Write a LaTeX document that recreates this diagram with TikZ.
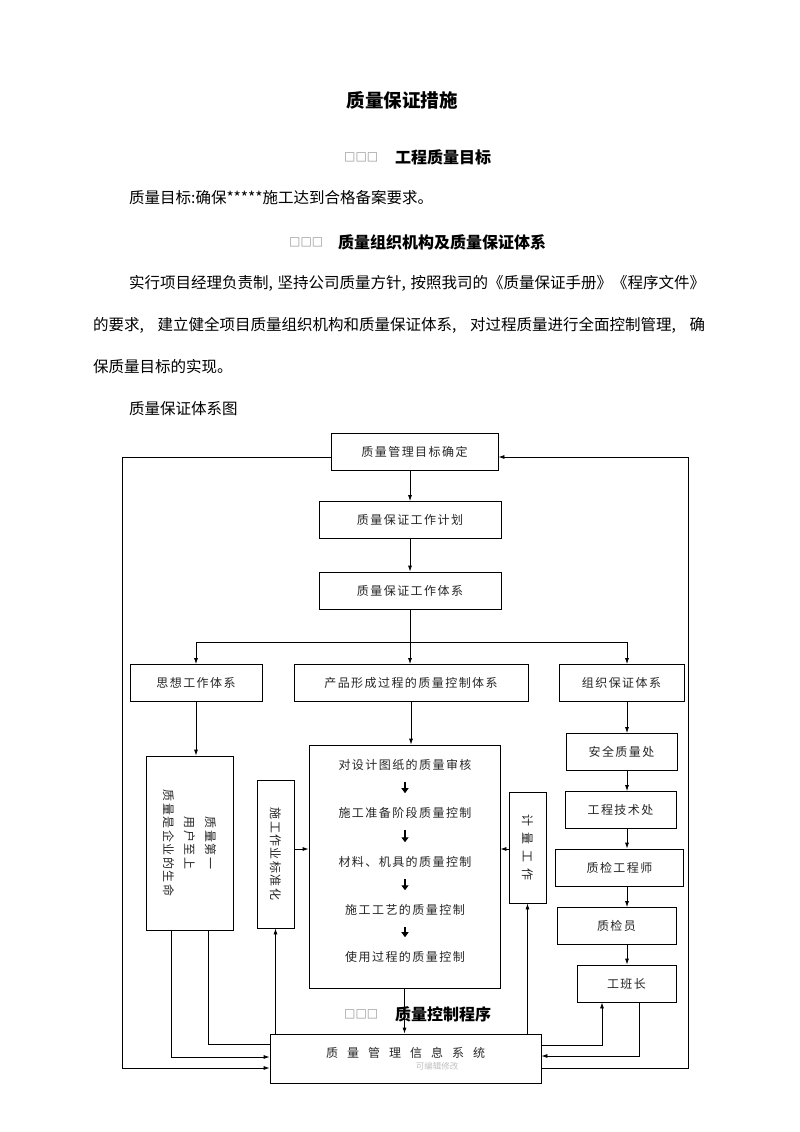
\documentclass[tikz,border=0pt]{standalone}
\usepackage{fontspec}
\usetikzlibrary{arrows.meta,positioning}
\newfontfamily\cjk{Noto Sans CJK SC}
\newfontfamily\cjkbox[LetterSpace=12]{Noto Sans CJK SC}
\newfontfamily\symfont{DejaVu Sans}

\tikzset{
  box/.style={draw, line width=0.8pt, inner sep=0pt, text=black!85,
    font=\cjkbox\fontsize{12}{21}\selectfont},
  stepline/.style={inner sep=0pt, text=black!85, font=\cjkbox\fontsize{12}{14}\selectfont},
  arr/.style={line width=0.8pt, -{Latex[length=6pt,width=4pt]}},
  link/.style={line width=0.8pt},
  tick/.style={line width=1.7pt, -{Triangle[length=5pt,width=7pt]}, shorten <=11pt, shorten >=14pt},
  body/.style={anchor=west, inner sep=0pt, font=\cjk\fontsize{15.5}{18}\selectfont},
  head/.style={anchor=west, inner sep=0pt, font=\cjk\bfseries\fontsize{16}{18}\selectfont},
  tofu/.style={anchor=west, inner sep=0pt, text=black!40, font=\symfont\fontsize{12}{14}\selectfont}
}

\begin{document}
\begin{tikzpicture}[x=1pt, y=-1pt]
  \fill[white] (0,0) rectangle (800,1132);
  \useasboundingbox (0,0) rectangle (800,1132);

  % page text
  \node[inner sep=0pt, font=\cjk\bfseries\fontsize{18.5}{20}\selectfont] (title) at (402,100) {质量保证措施};
  \node[tofu] (sq1) at (344,157) {□□□};
  \node[head] (head1) at (395,157) {工程质量目标};
  \node[body] (aim) at (129,198) {质量目标:确保*****施工达到合格备案要求。};
  \node[tofu] (sq2) at (289,242) {□□□};
  \node[head] (head2) at (338,242) {质量组织机构及质量保证体系};
  \node[body] (para1) at (129,283) {\makebox[576pt][s]{实行项目经理负责制, 坚持公司质量方针, 按照我司的《质量保证手册》《程序文件》}};
  \node[body] (para2) at (93,325) {\makebox[612pt][s]{的要求, 建立健全项目质量组织机构和质量保证体系, 对过程质量进行全面控制管理, 确}};
  \node[body] (para3) at (93,367) {保质量目标的实现。};
  \node[body] (figname) at (129,409) {质量保证体系图};

  % main chain
  \node[box, minimum width=167pt, minimum height=37pt] (goal) at (414.5,451.5) {质量管理目标确定};
  \node[box, minimum width=182pt, minimum height=37pt] (plan) at (410,520) {质量保证工作计划};
  \node[box, minimum width=182pt, minimum height=37pt] (frame) at (410,590.5) {质量保证工作体系};

  % three branches
  \node[box, minimum width=132pt, minimum height=37pt] (idea) at (196,683) {思想工作体系};
  \node[box, minimum width=234pt, minimum height=37pt] (prod) at (411,683) {产品形成过程的质量控制体系};
  \node[box, minimum width=125pt, minimum height=37pt] (org) at (621.5,683) {组织保证体系};

  % left and middle column
  \node[box, rotate=-90, align=center, minimum width=174pt, minimum height=87pt] (motto) at (189.5,843) {质量第一\\用户至上\\质量是企业的生命};
  \node[box, rotate=-90, minimum width=148pt, minimum height=37pt] (std) at (275.5,854) {施工作业标准化};
  \node[box, minimum width=191pt, minimum height=243pt] (ctrl) at (404.5,866.5) {};
  \node[stepline] (s1) at (405,765) {对设计图纸的质量审核};
  \node[stepline] (s2) at (405,813) {施工准备阶段质量控制};
  \node[stepline] (s3) at (405,862) {材料、机具的质量控制};
  \node[stepline] (s4) at (405,910) {施工工艺的质量控制};
  \node[stepline] (s5) at (405,957) {使用过程的质量控制};
  \node[box, rotate=-90, minimum width=111pt, minimum height=37pt] (meas) at (527.5,847.5) {计\hspace{6pt}量\hspace{6pt}工\hspace{6pt}作};

  % right column
  \node[box, minimum width=111pt, minimum height=37pt] (safe) at (621.5,752) {安全质量处};
  \node[box, minimum width=111pt, minimum height=37pt] (tech) at (620.5,810) {工程技术处};
  \node[box, minimum width=128pt, minimum height=37pt] (qeng) at (619.5,867.5) {质检工程师};
  \node[box, minimum width=119pt, minimum height=37pt] (qins) at (616.5,926) {质检员};
  \node[box, minimum width=99pt, minimum height=37pt] (lead) at (626.5,983.5) {工班长};

  % bottom
  \node[tofu] (sq3) at (344,1014) {□□□};
  \node[head] (head3) at (395,1014) {质量控制程序};
  \node[box, minimum width=271pt, minimum height=49pt, text depth=13pt] (info) at (405.5,1058.5)
    {质\hspace{9pt}量\hspace{9pt}管\hspace{9pt}理\hspace{9pt}信\hspace{9pt}息\hspace{9pt}系\hspace{9pt}统};
  \node[inner sep=0pt, text=black!25, font=\cjk\fontsize{8.5}{10}\selectfont] (wm) at (437,1066) {可编辑修改};

  % connectors
  \coordinate (rcol) at (627,0);
  \coordinate (fork) at (410,642);
  \coordinate (midy) at (0,849);
  \coordinate (lo) at (122,1068);
  \coordinate (ro) at (688,1068);

  \draw[arr] (goal.south -| plan.north) -- (plan.north);
  \draw[arr] (plan) -- (frame);
  \draw[link] (frame.south) -- (fork);
  \draw[arr] (fork) -| (idea.north);
  \draw[arr] (fork) -- (fork |- prod.north);
  \draw[arr] (fork) -| (rcol |- org.north);

  \draw[arr] (idea) -- (idea |- motto.west);
  \draw[arr] (prod.south) -- (prod.south |- ctrl.north);
  \draw[tick] (s1.south) -- (s2.north);
  \draw[tick] (s2.south) -- (s3.north);
  \draw[tick] (s3.south) -- (s4.north);
  \draw[tick] (s4.south) -- (s5.north);
  \draw[arr] (std.north |- midy) -- (ctrl.west |- midy);
  \draw[arr] (meas.south |- midy) -- (ctrl.east |- midy);

  \draw[arr] (rcol |- org.south) -- (rcol |- safe.north);
  \draw[arr] (rcol |- safe.south) -- (rcol |- tech.north);
  \draw[arr] (rcol |- tech.south) -- (rcol |- qeng.north);
  \draw[arr] (rcol |- qeng.south) -- (rcol |- qins.north);
  \draw[arr] (rcol |- qins.south) -- (rcol |- lead.north);

  \draw[arr] (ctrl.south) -- (ctrl.south |- info.north);
  \draw[arr] (std.east |- info.north) -- (std.east);
  \draw[arr] (meas.east |- info.north) -- (meas.east);
  \draw[arr] ([xshift=-18.5pt]motto.east) |- ([yshift=1.5pt]info.west);
  \draw[link] ([xshift=18.5pt]motto.east) |- ([yshift=14.5pt]info.west);
  \draw[arr] ([yshift=13.5pt]info.east) -| ([xshift=-24.5pt]lead.south);
  \draw[arr] ([xshift=12.5pt]lead.south) |- ([yshift=2.5pt]info.east);

  % feedback loops
  \draw[arr] ([yshift=-5.5pt]goal.west) -| (lo) -- (lo -| info.west);
  \draw[arr] (ro -| info.east) -- (ro) |- ([yshift=-5.5pt]goal.east);
\end{tikzpicture}
\end{document}
